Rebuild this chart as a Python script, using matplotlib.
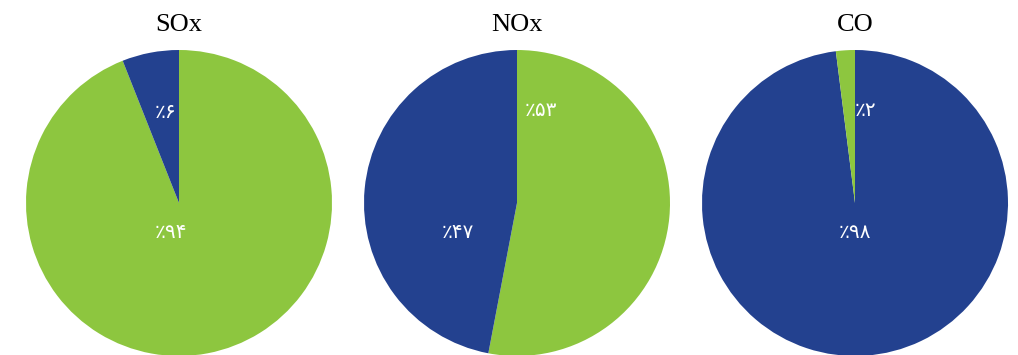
import matplotlib
matplotlib.use("Agg")
import matplotlib.pyplot as plt

# ---- data ----
titles = ["SOx", "NOx", "CO"]
green_share = [94, 53, 2]
blue_share = [6, 47, 98]
green_first = [True, True, False]   # slice order clockwise from 12 o'clock

# ---- style ----
GREEN = "#8DC63F"
BLUE = "#23418F"
FA_DIGITS = str.maketrans("0123456789", "۰۱۲۳۴۵۶۷۸۹")

def fa_pct(v):
    return "٪" + str(v).translate(FA_DIGITS)

W, H = 1018, 355
R = 153
centers_x = [179, 517, 855]
center_y = 203  # from top
# label offsets in px (dx, dy downward) for green and blue labels
green_off = [(-8, 30), (24, -93), (10, -93)]
blue_off = [(-14, -90), (-59, 30), (0, 30)]

fig = plt.figure(figsize=(W / 100, H / 100), dpi=100)
for i, t in enumerate(titles):
    cx = centers_x[i]
    ax = fig.add_axes([(cx - R) / W, (H - center_y - R) / H, 2 * R / W, 2 * R / H])
    if green_first[i]:
        vals, cols = [green_share[i], blue_share[i]], [GREEN, BLUE]
    else:
        vals, cols = [blue_share[i], green_share[i]], [BLUE, GREEN]
    ax.pie(vals, colors=cols, startangle=90, counterclock=False, radius=1,
           wedgeprops=dict(linewidth=0))
    ax.set_xlim(-1, 1)
    ax.set_ylim(-1, 1)
    ax.set_aspect("auto")
    ax.axis("off")
    for v, off in ((green_share[i], green_off[i]), (blue_share[i], blue_off[i])):
        ax.text(off[0] / R, -off[1] / R, fa_pct(v), color="white", fontsize=14.5,
                ha="center", va="center", family=["DejaVu Sans"])
    fig.text(cx / W, 1 - 25 / H, t, ha="center", va="center",
             fontsize=19, family=["Liberation Serif"])

fig.savefig("out.png", dpi=100)
